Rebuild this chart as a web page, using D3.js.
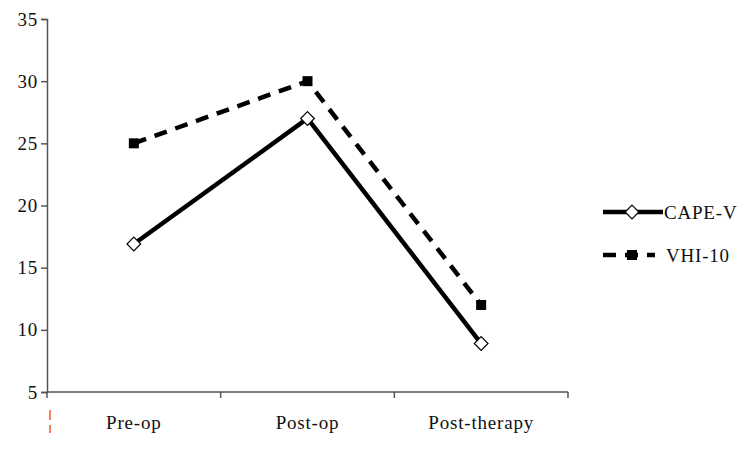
<!DOCTYPE html>
<html lang="en">
<head>
<meta charset="UTF-8">
<script src="https://cdn.jsdelivr.net/npm/d3@7"></script>
<style>
  body { margin: 0; background: #fff; }
  text { font-family: "Liberation Serif", "DejaVu Serif", serif; font-size: 19px; fill: #111; letter-spacing: 0.8px; }
</style>
<title>CAPE-V and VHI-10</title>
</head>
<body>
<svg width="740" height="450"></svg>
<script>
var categories = ["Pre-op", "Post-op", "Post-therapy"];
var capeV = [16.9, 27, 8.9];
var vhi10 = [25, 30, 12];
var yTicks = [5, 10, 15, 20, 25, 30, 35];

var svg = d3.select("svg");
var mLeft = 47, mRight = 568, mTop = 19, mBottom = 392;

var xScale = d3.scaleBand().domain(categories).range([mLeft, mRight]);
var yScale = d3.scaleLinear().domain([5, 35]).range([mBottom, mTop]);

// y axis
var yAxis = svg.append("g")
    .attr("transform", "translate(" + mLeft + ",0)")
    .call(d3.axisLeft(yScale).tickValues(yTicks).tickSize(6).tickPadding(3));
yAxis.select(".domain").attr("stroke", "#555").attr("stroke-width", 1.5);
yAxis.selectAll(".tick line").attr("stroke", "#555").attr("stroke-width", 1.5);
yAxis.selectAll("text").attr("font-size", null).attr("font-family", null).attr("fill", "#111");

// x axis with ticks on band edges
var xAxis = svg.append("g")
    .attr("transform", "translate(0," + mBottom + ")");
xAxis.append("line")
    .attr("x1", mLeft).attr("x2", mRight)
    .attr("stroke", "#555").attr("stroke-width", 1.5);
var edges = categories.map(function(c){ return xScale(c); }).concat([mRight]);
xAxis.selectAll(".edge")
    .data(edges)
    .enter().append("line")
    .attr("x1", function(d){ return d; }).attr("x2", function(d){ return d; })
    .attr("y1", 0).attr("y2", 6)
    .attr("stroke", "#555").attr("stroke-width", 1.5);
xAxis.selectAll(".lab")
    .data(categories)
    .enter().append("text")
    .attr("x", function(d){ return xScale(d) + xScale.bandwidth() / 2; })
    .attr("y", 37)
    .attr("text-anchor", "middle")
    .text(function(d){ return d; });

// small orange dashes below the axis origin
svg.append("line")
    .attr("x1", mLeft + 3).attr("x2", mLeft + 3)
    .attr("y1", 410).attr("y2", 433)
    .attr("stroke", "#f25a1a").attr("stroke-width", 1.5)
    .attr("stroke-dasharray", "10,5");

var cx = function(i){ return xScale(categories[i]) + xScale.bandwidth() / 2; };
var line = d3.line()
    .x(function(d, i){ return cx(i); })
    .y(function(d){ return yScale(d); });

// VHI-10 dashed
svg.append("path")
    .datum(vhi10)
    .attr("d", line)
    .attr("fill", "none")
    .attr("stroke", "#000")
    .attr("stroke-width", 4.5)
    .attr("stroke-dasharray", "13,9");
svg.selectAll(".sq")
    .data(vhi10)
    .enter().append("rect")
    .attr("x", function(d, i){ return cx(i) - 5; })
    .attr("y", function(d){ return yScale(d) - 5; })
    .attr("width", 10).attr("height", 10)
    .attr("fill", "#000");

// CAPE-V solid
svg.append("path")
    .datum(capeV)
    .attr("d", line)
    .attr("fill", "none")
    .attr("stroke", "#000")
    .attr("stroke-width", 4.5);
var diamond = d3.symbol().type(d3.symbolDiamond2).size(120);
svg.selectAll(".dm")
    .data(capeV)
    .enter().append("path")
    .attr("d", diamond)
    .attr("transform", function(d, i){ return "translate(" + cx(i) + "," + yScale(d) + ")"; })
    .attr("fill", "#fff")
    .attr("stroke", "#000")
    .attr("stroke-width", 1.2);

// legend
var legend = svg.append("g");
legend.append("line")
    .attr("x1", 603).attr("x2", 663).attr("y1", 212).attr("y2", 212)
    .attr("stroke", "#000").attr("stroke-width", 4.5);
legend.append("path")
    .attr("d", diamond)
    .attr("transform", "translate(632,212)")
    .attr("fill", "#fff").attr("stroke", "#000").attr("stroke-width", 1.2);
legend.append("text").attr("x", 664).attr("y", 219).text("CAPE-V");

legend.append("line")
    .attr("x1", 603).attr("x2", 655).attr("y1", 255).attr("y2", 255)
    .attr("stroke", "#000").attr("stroke-width", 4.5)
    .attr("stroke-dasharray", "13,9");
legend.append("rect")
    .attr("x", 627).attr("y", 250).attr("width", 10).attr("height", 10)
    .attr("fill", "#000");
legend.append("text").attr("x", 666).attr("y", 262).text("VHI-10");
</script>
</body>
</html>
